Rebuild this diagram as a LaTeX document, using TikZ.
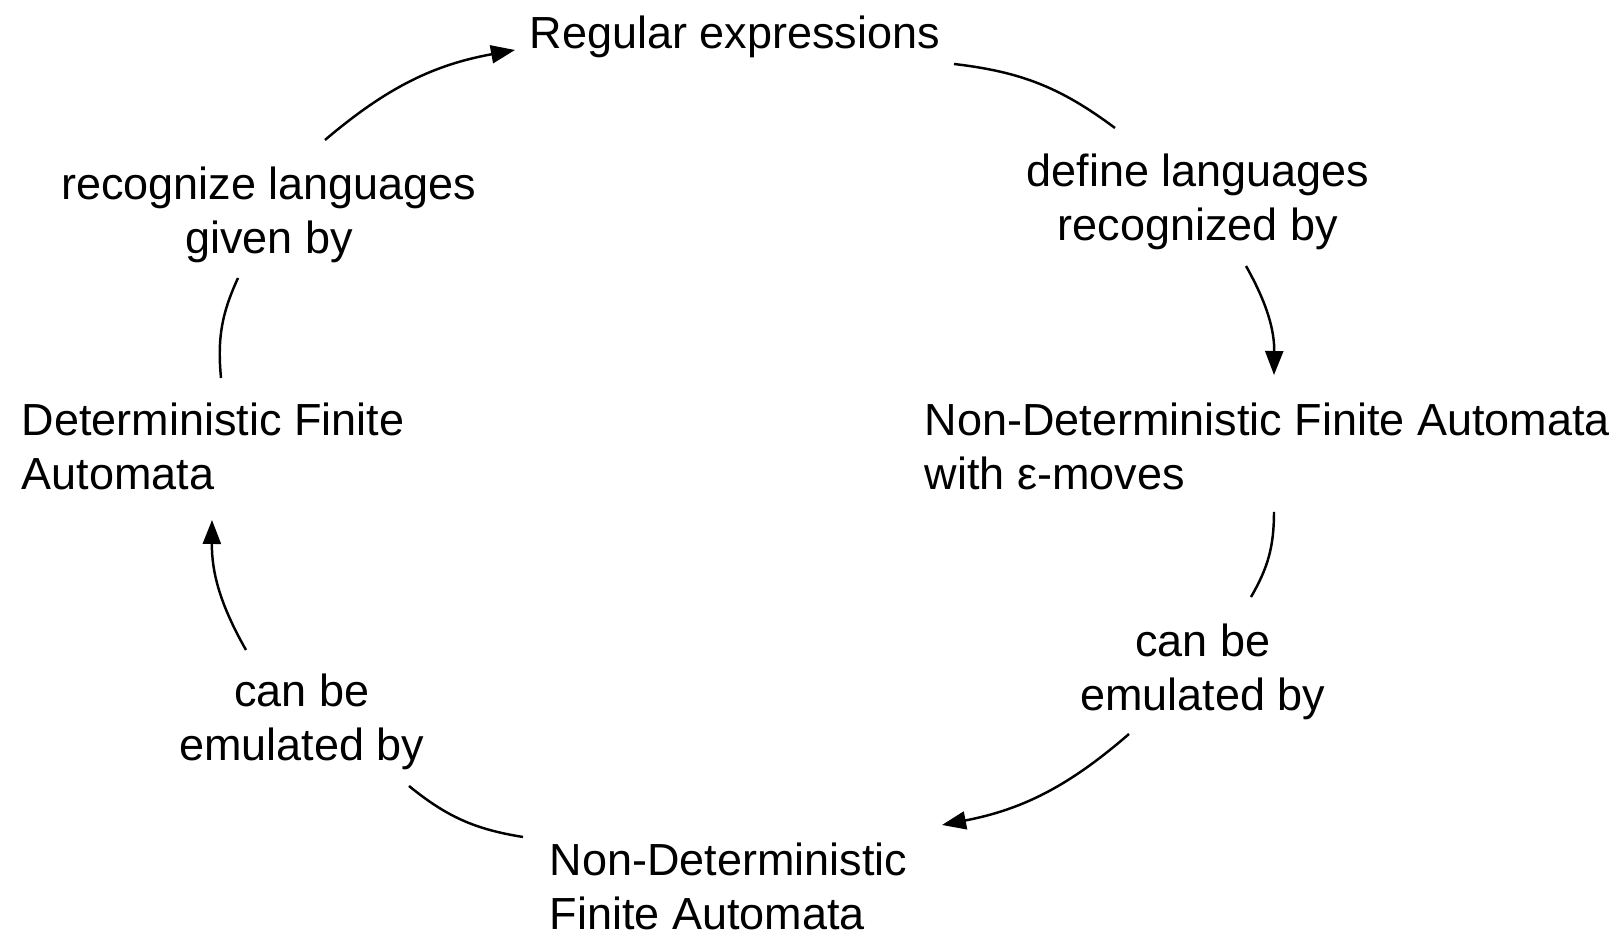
\documentclass[tikz,border=0pt]{standalone}
\usepackage{fontspec}
\setmainfont{Liberation Sans}
\usepackage{tikz}
\usetikzlibrary{calc}
\usetikzlibrary{arrows.meta}

\tikzset{
	txt/.style={inner sep=0pt, font=\fontsize{12.8}{15.4}\selectfont},
	ctxt/.style={txt, align=center},
	ltxt/.style={txt, align=left, anchor=west},
	arc/.style={line width=0.7pt, bend left=#1},
	arc/.default=15,
	tip/.style={-{Triangle[length=2.4mm,width=1.8mm]}}
}

\begin{document}
\begin{tikzpicture}
			\useasboundingbox (0,0) rectangle (16.24,9.30);
			\coordinate (orig) at (0,0);

			\node[ctxt] (re) at ($(orig)+(7.35,8.93)$) {Regular expressions};
			\node[ltxt] (dfa) at ($(orig)+(0.21,4.84)$) {Deterministic Finite\\Automata};
			\node[ltxt] (enfa) at ($(orig)+(9.24,4.84)$) {Non-Deterministic Finite Automata\\with ε-moves};
			\node[ltxt] (nfa) at ($(orig)+(5.49,0.44)$) {Non-Deterministic\\Finite Automata};

			\node[ctxt] (l1) at ($(orig)+(2.69,7.15)$) {recognize languages\\given by};
			\node[ctxt] (l2) at ($(orig)+(11.98,7.28)$) {define languages\\recognized by};
			\node[ctxt] (l3) at ($(orig)+(12.03,2.58)$) {can be\\emulated by};
			\node[ctxt] (l4) at ($(orig)+(3.02,2.08)$) {can be\\emulated by};

			% regular expressions -> eps-NFA
			\draw[arc] ($(re)+(2.19,-0.27)$) to ($(l2)+(-0.83,0.74)$);
			\draw[arc, tip] ($(l2)+(0.48,-0.64)$) to ($(enfa.west)+(3.50,0.71)$);

			% eps-NFA -> NFA
			\draw[arc] ($(enfa.west)+(3.50,-0.66)$) to ($(l3)+(0.48,0.75)$);
			\draw[arc, tip] ($(l3)+(-0.74,-0.62)$) to ($(nfa.west)+(3.93,0.61)$);

			% NFA -> DFA
			\draw[arc] ($(nfa.west)+(-0.26,0.49)$) to ($(l4)+(1.07,-0.64)$);
			\draw[arc, tip] ($(l4)+(-0.56,0.72)$) to ($(dfa.west)+(1.91,-0.74)$);

			% DFA -> regular expressions
			\draw[arc] ($(dfa.west)+(2.00,0.68)$) to ($(l1)+(-0.31,-0.63)$);
			\draw[arc, tip] ($(l1)+(0.56,0.75)$) to ($(re)+(-2.20,-0.13)$);

		\end{tikzpicture}
\end{document}
